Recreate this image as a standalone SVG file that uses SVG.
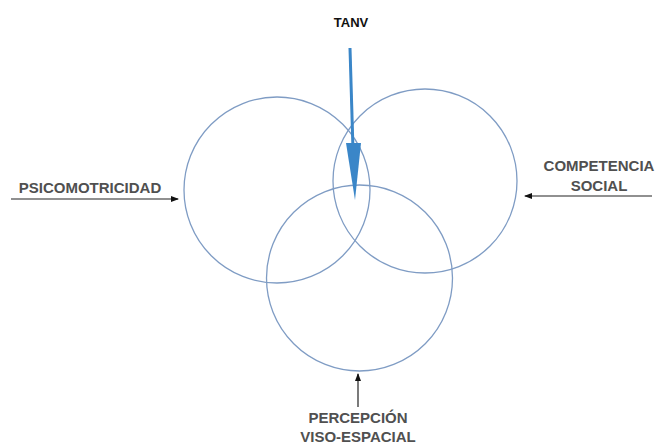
<svg xmlns="http://www.w3.org/2000/svg" width="660" height="444" viewBox="0 0 660 444">
<style>
.c{fill:none;stroke:#7f9cc4;stroke-width:1.3}
.t{font-family:"Liberation Sans",Arial,sans-serif;font-size:15px;font-weight:bold;fill:#505050;text-anchor:middle}
.a{stroke:#222;stroke-width:1.2;fill:none}
</style>
<defs>
<marker id="ah" markerWidth="8" markerHeight="6" refX="7" refY="3" orient="auto" markerUnits="userSpaceOnUse">
<path d="M0,0 L8,3 L0,6 Z" fill="#111"/>
</marker>
</defs>
<rect width="660" height="444" fill="#fff"/>
<g id="circle-psicomotricidad"><circle class="c" cx="277" cy="190" r="93"/></g>
<g id="circle-competencia"><circle class="c" cx="425" cy="181" r="92"/></g>
<g id="circle-percepcion"><circle class="c" cx="359.5" cy="278" r="93"/></g>
<g id="tanv">
<text x="351" y="27" font-family="Liberation Sans,Arial,sans-serif" font-size="13" font-weight="bold" fill="#111" text-anchor="middle">TANV</text>
</g>
<g id="psicomotricidad"><text class="t" x="90" y="193">PSICOMOTRICIDAD</text></g>
<g id="competencia"><text class="t" x="599" y="171">COMPETENCIA</text><text class="t" x="599" y="191">SOCIAL</text></g>
<g id="percepcion"><text class="t" x="358" y="423">PERCEPCIÓN</text><text class="t" x="358" y="442">VISO-ESPACIAL</text></g>
<g id="connectors">
<line x1="350" y1="48" x2="353" y2="150" stroke="#3a86c8" stroke-width="3"/>
<path d="M346,143 L361,143 L355,200 Z" fill="#3a86c8"/>
<line class="a" x1="11" y1="199" x2="178" y2="199" marker-end="url(#ah)"/>
<line class="a" x1="652" y1="196" x2="525" y2="196" marker-end="url(#ah)"/>
<line class="a" x1="358" y1="407" x2="358" y2="374" marker-end="url(#ah)"/>
</g>
</svg>
